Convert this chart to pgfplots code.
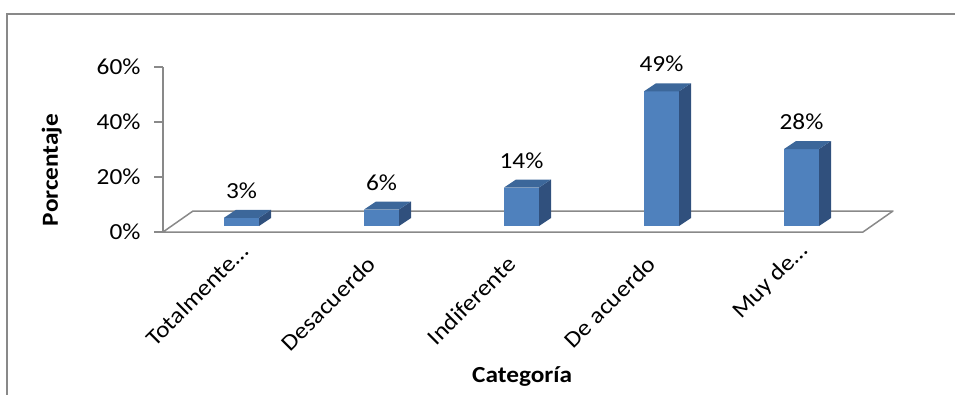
\documentclass[border=0pt]{standalone}
\usepackage{pgfplots}
\pgfplotsset{compat=1.18}
\usepackage{pgfplotstable}
\usepackage{fontspec}
\setmainfont{Carlito}[FakeStretch=1.1]

\definecolor{barfront}{HTML}{4F81BD}
\definecolor{bartop}{HTML}{3C679A}
\definecolor{barside}{HTML}{30507D}
\definecolor{linegray}{HTML}{898989}

% share of answers per category (percent)
\pgfplotstableread{
x y
0 3
1 6
2 14
3 49
4 28
}\surveydata

% 3-D column: front face, side face and lid, drawn from the point (x, value)
% with y = 2.75pt per percent; the column sits half-way into the floor depth
\pgfdeclareplotmark{box3d}{%
  \pgfmathsetlengthmacro\hh{\ry*2.75pt}%
  \pgfpathrectangle{\pgfpoint{-9pt}{6pt-\hh}}{\pgfpoint{35pt}{\hh}}%
  \pgfsetfillcolor{barfront}\pgfusepath{fill}%
  \pgfpathmoveto{\pgfpoint{26pt}{6pt-\hh}}%
  \pgfpathlineto{\pgfpoint{38pt}{14pt-\hh}}%
  \pgfpathlineto{\pgfpoint{38pt}{14pt}}%
  \pgfpathlineto{\pgfpoint{26pt}{6pt}}%
  \pgfpathclose
  \pgfsetfillcolor{barside}\pgfusepath{fill}%
  \pgfpathmoveto{\pgfpoint{-9pt}{6pt}}%
  \pgfpathlineto{\pgfpoint{26pt}{6pt}}%
  \pgfpathlineto{\pgfpoint{38pt}{14pt}}%
  \pgfpathlineto{\pgfpoint{3pt}{14pt}}%
  \pgfpathclose
  \pgfsetfillcolor{bartop}\pgfusepath{fill}%
}

\newcommand{\chartfont}{\fontsize{23}{27}\selectfont}

\begin{document}
\begin{tikzpicture}
\draw[linegray, line width=2pt] (7pt,-5pt) -- (7pt,380pt) -- (962pt,380pt);
\begin{axis}[
  set layers,
  at={(163pt,162pt)}, anchor=south west,
  x=140pt, y=2.75pt,
  xmin=-0.5, xmax=4.5, ymin=0, ymax=60,
  clip=false,
  axis lines=left,
  axis line style={-},
  x axis line style={draw=none},
  y axis line style={linegray, line width=1.5pt},
  tick align=outside,
  major tick length=9pt,
  xtick={0,1,2,3,4},
  xtick style={draw=none},
  xticklabels={{Totalmente…\kern-18pt}, Desacuerdo, Indiferente, De acuerdo, {Muy de…\kern-18pt}},
  xticklabel style={xshift=1pt, yshift=-17pt, rotate=45, anchor=east, font=\chartfont},
  ytick={0,20,40,60},
  ytick style={linegray, line width=1.5pt},
  yticklabel={\pgfmathprintnumber{\tick}\%},
  yticklabel style={anchor=east, xshift=-10pt, font=\chartfont},
  /pgf/number format/assume math mode=true,
  xlabel={Categoría},
  ylabel={Porcentaje},
  xlabel style={at={(axis description cs:0.513,0)}, anchor=center, yshift=-145pt, font=\bfseries\chartfont},
  ylabel style={at={(axis description cs:-0.159,0.376)}, anchor=center, font=\bfseries\chartfont},
]
\begin{pgfonlayer}{axis background}
\draw[linegray, line width=1.5pt, line join=round]
  (axis cs:-0.5,0) -- (axis cs:4.5,0)
  -- ([shift={(30pt,21pt)}]axis cs:4.5,0)
  -- ([shift={(30pt,21pt)}]axis cs:-0.5,0) -- cycle;
\end{pgfonlayer}
\addplot[scatter, only marks, mark=box3d,
  scatter/@pre marker code/.code={},
  scatter/@post marker code/.code={},
  visualization depends on={rawy \as \ry},
  point meta=rawy,
  nodes near coords={\pgfmathprintnumber{\pgfplotspointmeta}\%},
  every node near coord/.append style={anchor=base, xshift=8.5pt, yshift=25.5pt,
    font=\chartfont, text=black},
] table[x=x, y=y] {\surveydata};
\end{axis}
\pgfresetboundingbox
\useasboundingbox (0,0) rectangle (955pt,394pt);
\end{tikzpicture}
\end{document}
